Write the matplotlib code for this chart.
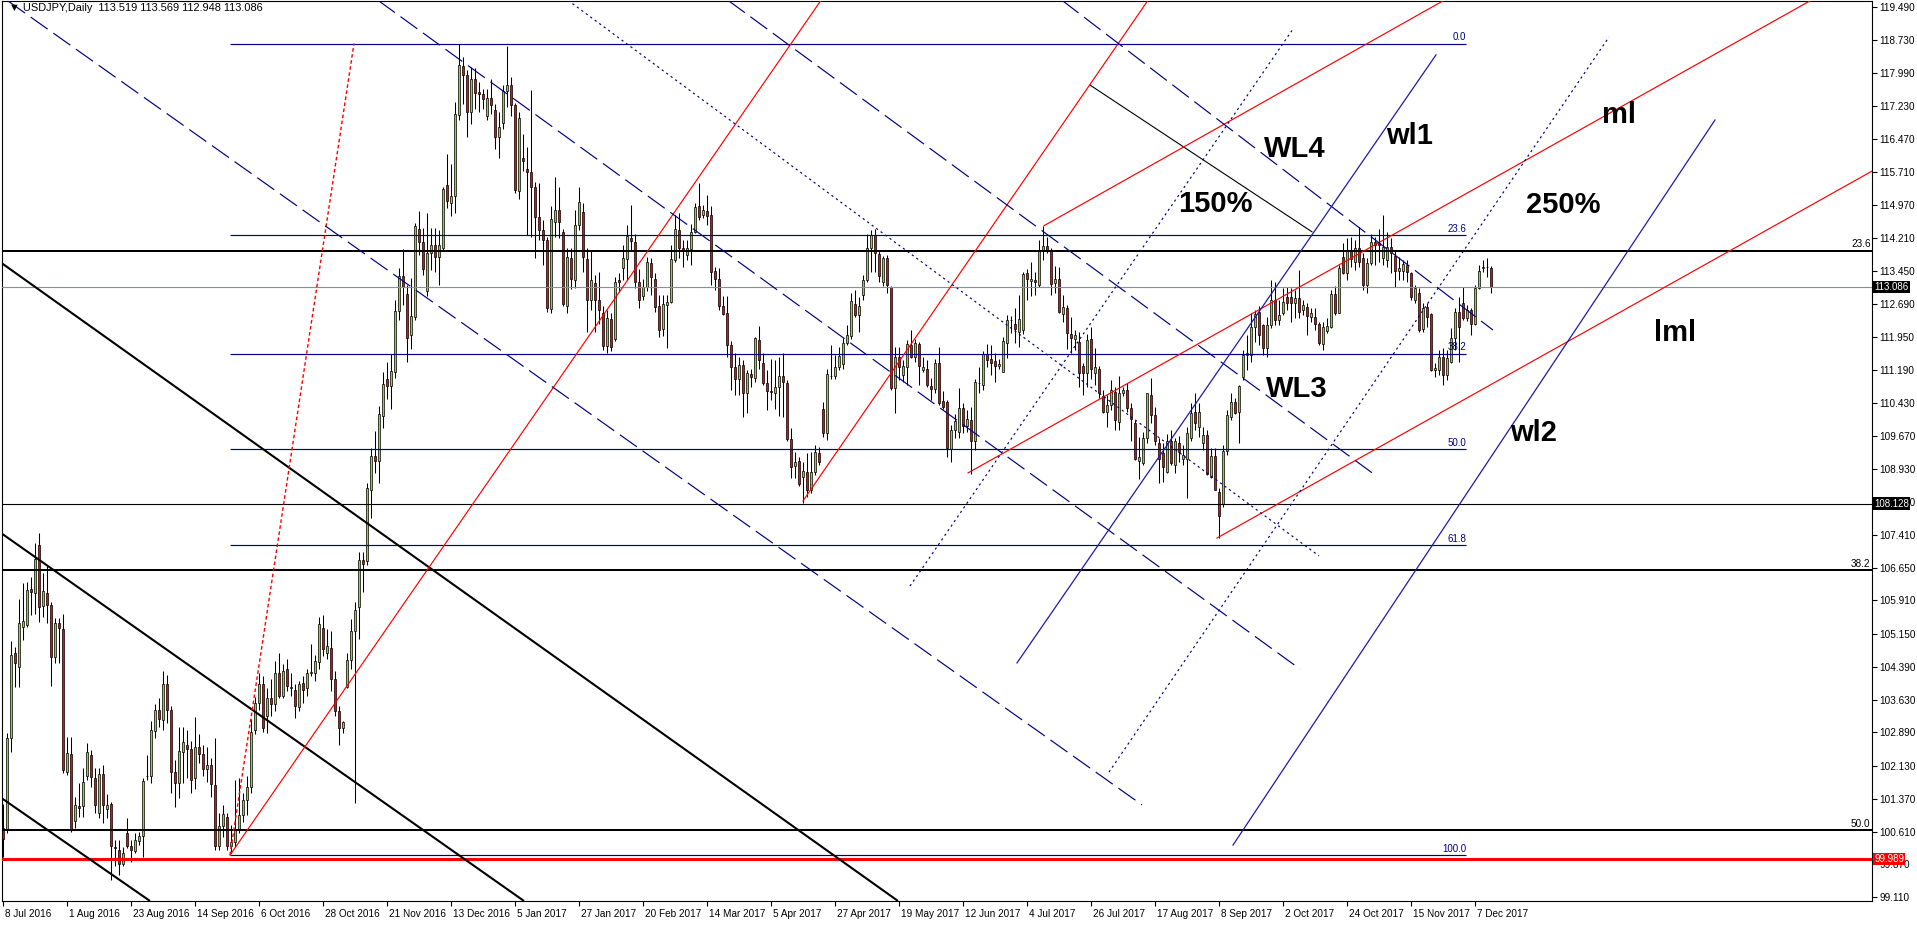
import matplotlib
matplotlib.use('Agg')
import matplotlib.pyplot as plt
import numpy as np
from matplotlib.transforms import blended_transform_factory, ScaledTranslation

plt.rcParams['lines.scale_dashes'] = False
plt.rcParams['font.family'] = ['Liberation Sans', 'DejaVu Sans']

# ---------------- data (USDJPY daily) ----------------
opens = [
100.70,100.66,102.75,104.70,104.39,105.31,105.35,106.17,106.09,107.18,
105.78,106.09,105.81,104.62,105.40,105.25,101.99,102.39,100.85,101.21,
101.20,101.88,102.37,101.84,101.05,101.94,101.13,101.25,100.26,100.20,
99.88,100.58,100.29,100.18,100.40,100.52,101.88,101.88,102.93,103.40,
103.17,103.99,103.40,101.99,101.72,102.45,102.60,102.50,101.85,102.55,
102.40,102.05,102.15,101.68,100.29,100.75,100.96,100.29,100.39,100.65,
101.00,101.35,101.65,102.95,103.56,104.00,103.27,103.67,103.55,104.24,
103.72,104.35,103.90,103.87,103.46,104.03,103.90,104.24,104.26,104.49,
105.28,104.70,104.83,104.12,103.39,102.99,103.92,104.55,105.20,105.77,
106.84,106.82,108.43,109.22,109.11,110.13,110.98,110.83,111.15,112.53,
113.34,112.93,111.99,112.40,114.41,114.12,112.99,113.87,114.04,113.78,
113.98,115.43,115.00,115.17,117.02,118.15,117.95,117.10,117.84,117.55,
117.50,117.00,117.42,117.13,116.53,116.84,117.58,117.72,117.25,115.29,
116.05,115.78,115.73,115.38,114.68,114.38,114.16,112.58,114.58,114.85,
114.35,112.64,113.74,113.25,114.51,114.81,113.72,112.79,113.17,112.79,
112.50,111.74,112.35,111.89,113.25,113.51,113.72,114.20,114.11,113.19,
112.87,113.08,113.63,113.28,112.65,112.12,112.67,112.75,113.70,114.38,
113.99,113.82,113.95,114.35,114.93,114.73,114.83,114.73,113.45,113.28,
112.64,112.48,111.76,111.25,110.97,111.30,110.65,111.09,111.00,111.87,
111.34,110.90,110.71,110.67,110.79,111.05,110.90,109.60,108.99,109.11,
108.73,108.84,108.44,108.84,109.28,110.29,109.74,111.04,111.04,111.25,
111.32,111.81,111.97,112.70,112.45,112.90,113.25,113.97,114.28,113.84,
113.19,113.76,113.09,110.77,111.48,111.07,111.26,111.76,111.49,111.78,
111.19,111.22,110.82,110.74,111.34,110.48,110.46,109.37,109.81,109.77,
110.31,109.90,110.04,109.55,110.90,110.84,111.55,111.43,111.40,111.28,
111.15,111.81,112.32,112.24,112.06,112.10,113.40,113.22,113.25,113.13,
113.92,114.02,113.92,113.18,113.26,112.47,112.60,112.01,111.89,111.83,
111.28,111.11,111.89,111.11,111.20,110.59,110.23,110.38,110.69,110.00,
110.65,110.73,110.31,109.98,109.10,109.06,109.62,110.61,110.15,109.52,
109.29,108.86,109.55,109.01,109.51,109.16,109.16,109.64,110.23,109.89,
109.52,109.70,108.74,109.22,108.40,108.12,109.34,110.12,110.46,110.23,
111.03,111.54,111.54,112.16,112.52,112.21,111.68,112.21,112.79,112.33,
112.48,112.85,112.86,112.71,112.83,112.56,112.62,112.41,112.41,112.24,
111.78,112.08,112.18,112.93,112.50,113.78,113.41,113.93,113.66,113.97,
113.74,113.13,113.63,114.12,114.10,113.74,113.70,114.00,113.80,113.46,
113.46,113.59,113.40,112.79,112.94,112.12,112.62,112.47,111.19,111.19,
111.48,111.07,111.38,111.91,112.52,112.71,112.37,112.57,112.25,113.06,
113.53,113.54,113.519]

highs = [
101.26,102.87,104.99,104.85,105.94,106.30,106.34,106.45,107.22,107.46,
106.53,106.72,105.88,105.50,105.50,105.60,102.79,102.79,101.42,101.72,
102.07,102.65,102.49,102.07,102.07,102.14,101.49,101.30,100.43,100.43,
100.27,100.92,100.43,100.58,100.62,101.84,102.37,103.14,103.53,103.67,
104.30,104.20,103.50,102.26,103.02,103.02,102.95,102.70,103.25,102.85,
102.60,102.55,102.30,102.75,101.04,101.23,101.04,100.77,101.80,101.84,
101.50,101.90,103.20,103.70,104.24,104.17,103.90,104.12,104.52,104.70,
104.46,104.58,104.24,104.00,104.07,104.18,104.35,104.92,104.67,105.54,
105.57,105.26,105.20,104.30,103.50,103.16,104.70,105.48,105.88,107.01,
107.01,108.60,109.39,109.79,110.36,111.15,111.38,111.55,112.79,113.53,
113.95,113.13,113.30,114.55,114.83,114.44,114.78,114.44,114.44,114.38,
115.37,116.14,115.91,117.33,118.65,118.35,118.06,118.12,118.09,117.78,
117.63,117.63,117.84,117.27,117.10,117.72,118.61,117.90,117.30,117.10,
116.60,116.30,117.60,115.50,115.46,114.62,114.24,114.93,115.61,115.38,
114.41,113.97,113.97,114.85,115.38,115.00,113.97,113.93,113.36,113.44,
112.64,112.56,112.48,113.32,113.40,114.05,114.51,114.96,114.30,113.49,
113.28,113.77,113.74,113.40,112.90,112.90,112.90,114.05,114.74,114.77,
114.16,114.16,114.54,115.00,115.47,114.96,115.19,114.93,113.54,113.51,
112.87,112.87,111.84,111.57,111.49,111.41,111.19,111.20,111.95,112.19,
111.57,111.19,111.43,111.41,111.49,111.57,110.95,109.85,109.32,109.20,
109.09,109.28,109.32,109.47,109.43,110.46,111.20,111.76,111.53,111.72,
111.91,112.22,112.94,113.02,112.86,113.36,114.31,114.38,114.41,113.93,
113.80,113.82,113.11,111.72,111.72,111.41,111.87,112.10,111.89,111.83,
111.49,111.41,111.00,111.43,111.72,110.71,110.51,109.93,110.19,110.77,
110.42,110.27,110.35,110.97,111.26,111.61,111.78,111.76,111.57,111.43,
111.95,112.45,112.42,112.60,112.90,113.44,113.49,113.67,113.44,114.16,
114.49,114.24,113.97,113.57,113.55,112.90,112.67,112.39,112.10,112.06,
111.34,112.02,112.18,111.70,111.28,110.73,110.61,110.96,110.80,111.05,
110.80,110.88,110.42,110.04,109.66,109.77,110.67,111.00,110.35,109.62,
109.51,109.73,109.81,109.62,109.68,109.47,109.89,110.42,110.65,110.42,
109.89,109.81,109.39,109.39,108.48,109.47,110.27,110.67,110.54,110.84,
111.64,111.98,112.50,112.56,112.64,112.25,112.39,113.25,113.21,112.79,
113.06,113.09,113.06,113.02,113.48,112.79,112.71,112.60,112.60,112.29,
112.29,112.37,113.02,113.11,113.59,114.09,114.20,114.24,114.16,114.47,
113.86,113.74,114.31,114.24,114.41,114.73,114.35,114.20,113.90,113.78,
113.71,113.71,113.44,113.13,113.06,112.71,112.71,112.48,111.34,111.64,
111.68,111.64,112.14,112.60,112.85,113.08,112.67,112.60,113.13,113.59,
113.71,113.74,113.569]

lows = [
100.04,100.58,102.45,103.94,103.94,105.00,105.30,105.58,105.60,105.42,
105.54,105.39,103.96,104.47,104.47,101.95,101.91,100.60,100.69,100.96,
100.96,101.80,101.65,101.04,100.92,100.81,100.92,99.51,99.82,99.63,
99.82,100.24,99.93,100.12,100.31,100.04,101.80,101.72,102.75,103.02,
102.94,103.10,101.50,101.19,101.38,101.72,101.85,101.50,101.60,102.20,
101.90,101.75,101.40,100.20,100.20,100.50,100.20,100.12,100.27,100.58,
100.84,101.00,101.50,102.85,103.40,102.90,102.88,103.27,103.39,103.67,
103.67,103.84,103.73,103.22,103.39,103.56,103.73,104.18,104.07,104.35,
104.63,104.58,103.84,103.27,102.59,102.88,103.90,104.35,101.27,105.03,
106.11,106.73,107.80,108.83,108.60,109.85,110.53,110.30,111.01,112.34,
112.68,111.38,111.66,112.34,113.81,113.36,112.88,113.47,113.42,113.13,
113.90,114.89,114.72,114.78,116.90,117.27,116.53,116.82,117.16,117.10,
117.16,116.90,117.04,116.25,116.05,116.70,117.21,117.00,115.23,115.10,
115.75,114.28,114.24,113.74,114.16,113.59,112.52,112.50,114.24,114.20,
112.64,112.50,113.03,113.06,114.39,113.44,112.06,112.56,112.06,112.25,
111.64,111.57,111.61,111.84,112.98,113.25,113.25,113.90,113.06,112.60,
112.79,113.00,112.90,112.52,111.95,111.96,111.68,112.71,113.67,113.74,
113.55,113.70,113.59,114.32,114.62,114.66,114.51,113.13,113.02,112.56,
112.45,111.49,110.73,110.61,110.61,110.12,110.20,110.80,110.92,111.22,
110.84,110.26,110.51,110.29,110.13,110.12,109.55,108.71,108.71,108.53,
108.13,108.29,108.38,108.78,109.00,109.65,109.58,110.97,110.99,111.19,
111.22,111.75,111.90,112.41,112.06,112.79,113.21,113.44,113.44,113.19,
113.11,112.94,110.73,110.21,110.96,110.92,110.84,111.45,111.38,110.84,
111.15,110.80,110.50,110.65,110.38,110.29,109.20,109.09,109.64,109.62,
109.74,109.77,108.81,109.35,110.65,110.73,111.26,111.07,110.92,111.22,
111.13,111.45,112.03,111.80,111.72,112.00,112.79,112.87,112.90,113.09,
113.70,113.86,112.90,112.94,112.48,112.29,111.66,111.57,111.64,110.80,
110.61,110.80,110.99,110.84,110.54,110.21,109.89,110.27,109.81,109.81,
110.58,110.23,109.55,109.12,108.70,109.01,109.51,109.97,109.47,108.59,
108.63,108.82,109.00,108.82,109.09,109.01,108.25,109.55,109.81,109.66,
109.35,108.78,108.71,108.44,107.33,108.05,109.24,110.05,110.19,109.52,
110.95,111.19,111.38,111.83,111.76,111.53,111.49,112.15,112.21,112.21,
112.45,112.56,112.29,112.37,112.37,112.45,111.99,112.29,112.10,111.76,
111.64,112.03,112.14,112.45,112.48,113.38,113.25,113.54,113.48,113.54,
113.02,112.94,113.59,113.59,113.67,113.59,113.55,113.40,113.08,113.25,
113.25,113.21,112.79,112.73,112.05,112.05,112.18,111.17,111.03,111.07,
110.84,110.96,111.34,111.64,111.38,112.33,112.30,111.99,112.22,113.03,
113.44,113.32,112.948]

closes = [
100.46,102.75,104.66,104.47,105.39,105.44,106.15,106.11,106.85,105.77,
106.13,105.81,104.61,105.40,105.27,102.03,102.41,100.67,101.23,101.17,
101.75,102.43,101.86,101.23,101.94,101.23,101.23,100.29,100.25,99.88,
100.12,100.29,100.20,100.43,100.52,101.78,101.90,102.94,103.40,103.19,
103.99,103.40,101.99,101.72,102.46,102.66,102.50,101.80,102.55,102.40,
102.05,102.15,101.70,100.29,100.75,101.03,100.29,100.39,100.65,101.00,
101.35,101.65,102.90,103.56,104.00,102.99,103.67,103.53,104.24,103.72,
104.30,103.95,103.92,103.50,104.00,103.87,104.24,104.28,104.52,105.37,
104.80,104.86,104.12,103.39,102.99,103.13,104.55,105.20,105.70,106.84,
106.75,108.49,109.22,109.11,110.19,110.87,110.83,111.17,112.53,113.34,
113.08,111.92,112.42,114.49,114.12,113.50,113.87,114.04,113.78,114.04,
115.34,115.06,115.17,117.04,118.18,117.95,117.10,117.84,117.52,117.50,
117.38,117.42,117.25,116.53,116.76,117.58,117.72,117.25,115.31,116.95,
115.98,115.73,115.38,114.70,114.39,114.16,112.60,114.64,114.85,114.58,
112.70,113.78,113.26,114.51,115.04,113.77,112.79,113.25,112.79,112.56,
111.74,112.37,111.72,113.21,113.20,113.74,114.25,114.15,113.21,112.80,
113.08,113.67,113.31,112.62,112.10,112.70,112.75,113.72,114.41,113.97,
113.90,113.97,114.35,114.91,114.70,114.85,114.71,113.44,113.28,112.64,
112.47,111.76,111.25,110.97,111.30,110.65,111.11,111.02,111.91,111.42,
110.90,110.71,110.69,110.79,111.05,110.92,109.60,108.97,109.07,108.58,
108.88,108.44,108.84,109.30,109.07,109.74,111.10,111.06,111.26,111.51,
111.81,111.99,112.77,112.45,112.65,113.25,113.99,114.28,113.87,113.34,
113.76,113.13,110.77,111.48,111.26,111.28,111.77,111.49,111.81,111.28,
111.25,110.84,110.74,111.35,110.42,110.35,109.39,109.81,110.03,110.31,
109.90,110.06,109.55,110.92,110.88,111.55,111.41,111.34,111.28,111.32,
111.86,112.33,112.33,112.12,112.35,113.38,113.26,113.26,113.19,113.92,
114.02,113.92,113.15,113.28,112.52,112.62,112.04,111.91,111.99,111.11,
111.11,111.87,111.22,111.26,110.65,110.23,110.38,110.73,110.04,110.65,
110.73,110.31,110.06,109.16,109.20,109.64,110.65,110.15,109.55,109.16,
108.96,109.55,109.05,109.55,109.32,109.24,109.75,110.21,109.97,110.23,
109.70,108.80,109.22,108.45,107.84,109.34,110.15,110.46,110.21,110.82,
111.54,111.58,112.16,112.47,111.99,111.68,112.21,112.79,112.33,112.44,
112.75,112.71,112.73,112.83,112.52,112.67,112.42,112.50,112.25,111.80,
112.18,112.19,112.93,112.50,113.51,113.41,113.93,113.72,113.97,113.66,
113.13,113.63,114.12,114.05,114.05,114.01,114.01,113.86,113.46,113.51,
113.61,113.44,112.86,113.06,112.10,112.60,112.41,111.19,111.23,111.49,
111.07,111.45,111.91,112.52,112.16,112.37,112.56,112.25,113.06,113.46,
113.54,113.54,113.086]

date_tick_bars = list(range(0, 369, 16))
date_tick_labels = ['8 Jul 2016', '1 Aug 2016', '23 Aug 2016', '14 Sep 2016', '6 Oct 2016',
                    '28 Oct 2016', '21 Nov 2016', '13 Dec 2016', '5 Jan 2017', '27 Jan 2017',
                    '20 Feb 2017', '14 Mar 2017', '5 Apr 2017', '27 Apr 2017', '19 May 2017',
                    '12 Jun 2017', '4 Jul 2017', '26 Jul 2017', '17 Aug 2017', '8 Sep 2017',
                    '2 Oct 2017', '24 Oct 2017', '15 Nov 2017', '7 Dec 2017']
price_ticks = [119.49, 118.73, 117.99, 117.23, 116.47, 115.71, 114.97, 114.21, 113.45,
               112.69, 111.95, 111.19, 110.43, 109.67, 108.93, 108.17, 107.41, 106.65,
               105.91, 105.15, 104.39, 103.63, 102.89, 102.13, 101.37, 100.61, 99.87, 99.11]
price_tick_labels = ['119.490', '118.730', '117.990', '117.230', '116.470', '115.710', '114.970',
                     '114.210', '113.450', '112.690', '111.950', '111.190', '110.430', '109.670',
                     '108.930', '108.170', '107.410', '106.650', '105.910', '105.150', '104.390',
                     '103.630', '102.890', '102.130', '101.370', '100.610', '99.870', '99.110']

# horizontal levels
black_thick_levels = [113.92, 106.60, 100.65]
black_thick_level_labels = ['23.6', '38.2', '50.0']
thin_black_level = 108.128
last_price = 113.086
red_level = 99.989

# Fibonacci retracement (bar range and levels)
fib_start_bar, fib_end_bar = 56.75, 365.75
fib_levels = [118.66, 114.27, 111.56, 109.37, 107.18, 100.08]
fib_labels = ['0.0', '23.6', '38.2', '50.0', '61.8', '100.0']

# trend lines as ((bar, price), (bar, price))
black_thick_lines = [((-0.75, 107.47), (130.25, 99.03)),
                     ((-0.75, 113.66), (223.75, 99.03)),
                     ((-0.75, 101.41), (36.75, 99.03))]
black_thin_lines = [((271.75, 117.71), (327.25, 114.35))]
red_solid_lines = [((56.75, 100.08), (204.5, 119.65)),
                   ((200.0, 108.19), (286.25, 119.65)),
                   ((260.25, 114.49), (360.25, 119.65)),
                   ((241.25, 108.83), (452.0, 119.65)),
                   ((303.5, 107.34), (467.25, 115.74))]
red_dotted_lines = [((56.75, 100.08), (87.75, 118.66))]
navy_dashed_lines = [((1.25, 119.634), (284.75, 101.23)),
                     ((93.75, 119.65), (324.25, 104.34)),
                     ((181.25, 119.65), (342.75, 108.80)),
                     ((264.75, 119.65), (372.5, 112.10))]
navy_dotted_lines = [((141.25, 119.65), (329.0, 106.93)),
                     ((226.75, 106.24), (322.25, 118.96)),
                     ((276.5, 101.98), (401.5, 118.81))]
navy_solid_lines = [((253.5, 104.48), (358.25, 118.40)),
                    ((307.5, 100.31), (428.0, 116.91))]

# big annotations: (text, bar, baseline price)
annotations = [('WL4', 315.25, 116.06), ('wl1', 345.75, 116.36), ('ml', 399.75, 116.84),
               ('150%', 293.75, 114.80), ('250%', 380.75, 114.78), ('lml', 412.75, 111.85),
               ('WL3', 315.75, 110.57), ('wl2', 376.75, 109.56)]

header = '\u25BC USDJPY,Daily  113.519 113.569 112.948 113.086'

assert len(opens) == len(highs) == len(lows) == len(closes)

# ---------------- figure ----------------
W, H = 1917, 925
fig = plt.figure(figsize=(W / 100, H / 100), dpi=100)
fig.patch.set_facecolor('white')
ax = fig.add_axes([2 / W, (H - 901) / H, 1870 / W, 900 / H])
ax.set_xlim(-0.25, 467.25)
ax.set_ylim(119.634 - 900 / 43.68, 119.634)

NAVY = '#000080'
BLUE = '#1c1ca6'

# candles
x = np.arange(len(closes))
o = np.array(opens); c = np.array(closes); h = np.array(highs); l = np.array(lows)
lo = np.minimum(l, np.minimum(o, c)); hi = np.maximum(h, np.maximum(o, c))
ax.vlines(x, lo, hi, color='black', lw=0.75, zorder=3)
up = c >= o
bb = np.minimum(o, c)
bh = np.maximum(np.abs(c - o), 0.01)
ax.bar(x[up], bh[up], bottom=bb[up], width=0.7, color='#9ACD32', edgecolor='black', lw=0.5, zorder=4)
ax.bar(x[~up], bh[~up], bottom=bb[~up], width=0.7, color='#FF0000', edgecolor='black', lw=0.5, zorder=4)

# horizontal lines
for lv, lab in zip(black_thick_levels, black_thick_level_labels):
    ax.axhline(lv, color='black', lw=1.45, zorder=5)
    ax.text(466.9, lv + 0.03, lab, ha='right', va='bottom', fontsize=7.2, color='black', zorder=6)
ax.axhline(last_price, color='#8a8f98', lw=0.8, zorder=5)
ax.axhline(thin_black_level, color='black', lw=0.8, zorder=5)
ax.axhline(red_level, color='#ff0000', lw=2.2, zorder=5)

# fibonacci
ax.hlines(fib_levels, fib_start_bar, fib_end_bar, color=NAVY, lw=0.85, zorder=5)
for lv, lab in zip(fib_levels, fib_labels):
    ax.text(fib_end_bar, lv + 0.03, lab, ha='right', va='bottom', fontsize=7.0, color=NAVY, zorder=6)

def draw(lines, **kw):
    for (b0, p0), (b1, p1) in lines:
        ax.plot([b0, b1], [p0, p1], zorder=5, **kw)

draw(black_thick_lines, color='black', lw=1.5, solid_capstyle='butt')
draw(black_thin_lines, color='black', lw=0.8)
draw(red_solid_lines, color='#ff0000', lw=0.85)
draw(red_dotted_lines, color='#ff0000', lw=1.0, linestyle=(0, (2.6, 1.8)))
draw(navy_dashed_lines, color=NAVY, lw=0.85, linestyle=(0, (15.0, 5.0)))
draw(navy_dotted_lines, color=NAVY, lw=0.85, linestyle=(0, (1.6, 2.4)))
draw(navy_solid_lines, color=BLUE, lw=0.9)

for txt, b, p in annotations:
    ax.text(b, p, txt, ha='left', va='baseline', fontsize=21, fontweight='bold',
            color='black', zorder=7, family=['Liberation Sans', 'DejaVu Sans'])

# header
ax.text(0.0035, 0.9975, header, transform=ax.transAxes, ha='left', va='top', fontsize=7.9,
        color='black', zorder=8)

# axes styling
for sp in ax.spines.values():
    sp.set_color('black'); sp.set_linewidth(0.8)
ax.yaxis.tick_right()
ax.set_yticks(price_ticks)
ax.set_yticklabels(price_tick_labels)
ax.tick_params(axis='y', direction='out', length=3.5, width=0.8, pad=2, labelsize=7.2, colors='black')
ax.set_xticks(date_tick_bars)
ax.set_xticklabels(date_tick_labels, ha='left')
ax.tick_params(axis='x', direction='out', length=3.5, width=0.8, pad=2, labelsize=7.2, colors='black')
off = ScaledTranslation(2 / 100, 0, fig.dpi_scale_trans)
for lab in ax.get_xticklabels():
    lab.set_transform(lab.get_transform() + off)

# price tags on the axis
trans = blended_transform_factory(ax.transAxes, ax.transData)
for val, txt, col in [(last_price, '113.086', 'black'), (thin_black_level, '108.128', 'black'),
                      (red_level, '99.989', '#ff0000')]:
    ax.text(1.0012, val, txt, transform=trans, ha='left', va='center', color='white', fontsize=7.0,
            bbox=dict(boxstyle='square,pad=0.12', fc=col, ec='none'), clip_on=False, zorder=10)

fig.savefig('out.png', dpi=100, facecolor='white')
